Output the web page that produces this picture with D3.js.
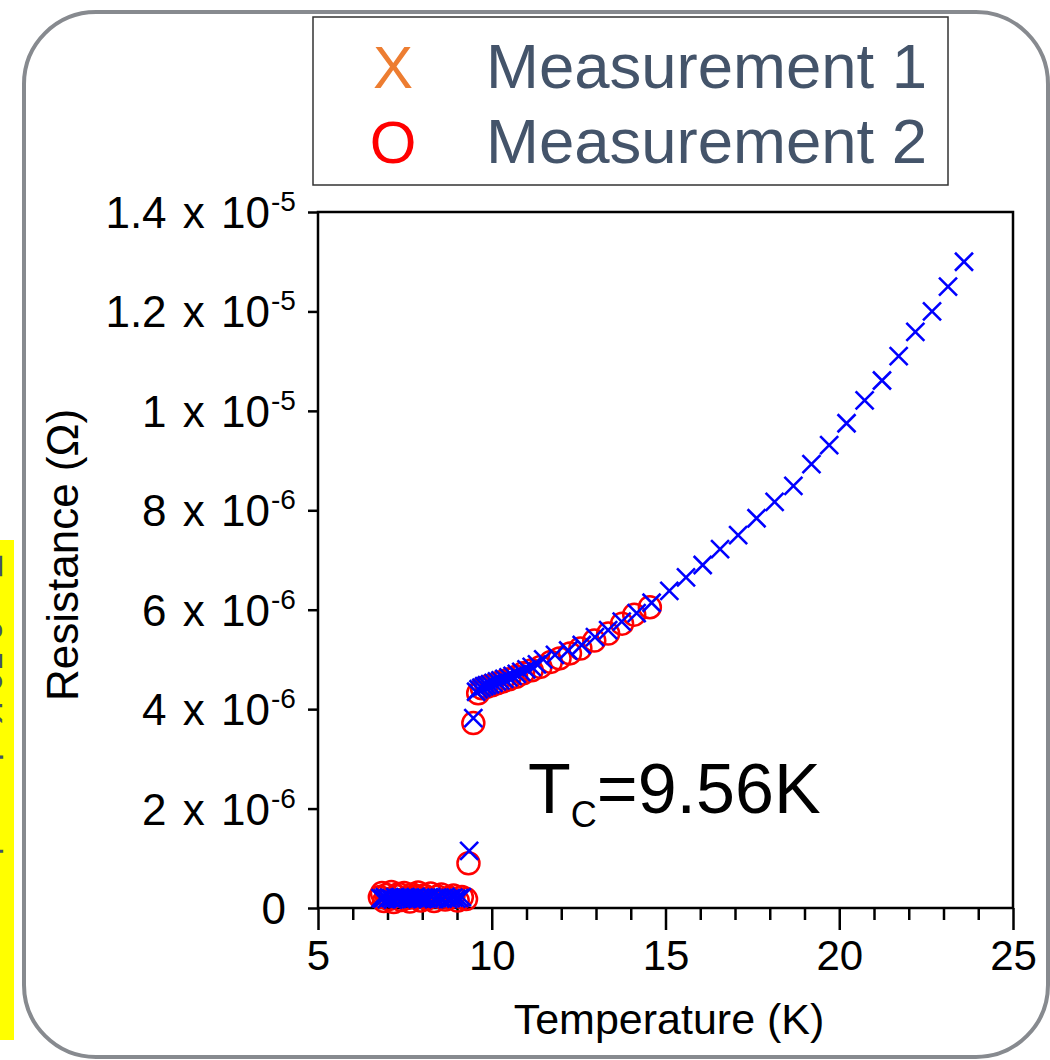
<!DOCTYPE html>
<html>
<head>
<meta charset="utf-8">
<script src="https://cdn.jsdelivr.net/npm/d3@7"></script>
<style>
  html, body { margin: 0; padding: 0; background: #fff; }
  svg { display: block; font-family: "Liberation Sans", Arial, Helvetica, sans-serif; }
</style>
</head>
<body>
<div id="chart"></div>
<script>
// Measurement 1 (blue crosses): temperature in K, resistance in units of 1e-6 Ohm
const m1Temp = [6.80, 6.86, 6.92, 6.98, 7.04, 7.10, 7.16, 7.22, 7.28, 7.34, 7.40, 7.46, 7.52, 7.58, 7.64, 7.70,
  7.76, 7.82, 7.88, 7.94, 8.00, 8.06, 8.12, 8.18, 8.26, 8.34, 8.42, 8.50, 8.58, 8.66, 8.74, 8.82, 8.90, 8.98,
  9.06, 9.14, 9.35, 9.47, 9.55, 9.62, 9.70, 9.78, 9.86, 9.95, 10.05, 10.15, 10.25, 10.36, 10.48, 10.60, 10.72,
  10.85, 11.00, 11.15, 11.30, 11.48, 11.82, 12.20, 12.59, 12.97, 13.35, 13.74, 14.17, 14.60, 15.11, 15.59,
  16.07, 16.57, 17.09, 17.62, 18.14, 18.68, 19.20, 19.71, 20.21, 20.73, 21.23, 21.71, 22.19, 22.67, 23.13, 23.59];
const m1Res = [0.20, 0.19, 0.22, 0.18, 0.21, 0.20, 0.17, 0.22, 0.19, 0.21, 0.18, 0.20, 0.22, 0.19, 0.21, 0.18,
  0.20, 0.22, 0.19, 0.21, 0.18, 0.20, 0.21, 0.19, 0.22, 0.18, 0.20, 0.21, 0.19, 0.22, 0.18, 0.20, 0.21, 0.19,
  0.20, 0.22, 1.15, 3.82, 4.35, 4.40, 4.43, 4.46, 4.48, 4.50, 4.53, 4.56, 4.58, 4.61, 4.64, 4.67, 4.71,
  4.75, 4.80, 4.85, 4.90, 5.00, 5.09, 5.18, 5.29, 5.45, 5.59, 5.76, 5.93, 6.14, 6.38, 6.65,
  6.90, 7.22, 7.50, 7.84, 8.17, 8.49, 8.93, 9.31, 9.75, 10.21, 10.61, 11.10, 11.59, 12.00, 12.50, 13.00];

// Measurement 2 (red circles)
const m2Temp = [6.78, 6.84, 6.90, 6.97, 7.04, 7.11, 7.18, 7.25, 7.32, 7.40, 7.48, 7.56, 7.64, 7.72, 7.80,
  7.88, 7.96, 8.05, 8.14, 8.24, 8.34, 8.44, 8.55, 8.66, 8.78, 8.90, 9.02, 9.14, 9.26, 9.33, 9.47,
  9.61, 9.72, 9.85, 10.00, 10.15, 10.30, 10.50, 10.70, 10.90, 11.15, 11.40, 11.70, 11.95, 12.25, 12.55,
  12.95, 13.35, 13.75, 14.10, 14.55];
const m2Res = [0.22, 0.30, 0.14, 0.26, 0.18, 0.32, 0.12, 0.24, 0.28, 0.16, 0.30, 0.20, 0.13, 0.27, 0.22,
  0.31, 0.15, 0.25, 0.19, 0.29, 0.14, 0.23, 0.27, 0.17, 0.21, 0.25, 0.15, 0.22, 0.18, 0.90, 3.72,
  4.32, 4.42, 4.45, 4.48, 4.52, 4.55, 4.60, 4.65, 4.72, 4.78, 4.85, 4.95, 5.02, 5.12, 5.22,
  5.38, 5.52, 5.72, 5.90, 6.05];

const xMajorTicks = [5, 10, 15, 20, 25];
const xMinorTicks = [6, 7, 8, 9, 11, 12, 13, 14, 16, 17, 18, 19, 21, 22, 23, 24];
const yMajorTicks = [0, 2, 4, 6, 8, 10, 12, 14];
const yTickMantissa = ["0", "2", "4", "6", "8", "1", "1.2", "1.4"];
const yTickExponent = ["", "-6", "-6", "-6", "-6", "-5", "-5", "-5"];
const legendLabels = ["Measurement 1", "Measurement 2"];
const legendSymbols = ["X", "O"];

const W = 1050, H = 1060;
const svg = d3.select('#chart').append('svg')
    .attr('width', W).attr('height', H)
    .attr('viewBox', '0 0 ' + W + ' ' + H);

// outer rounded frame
svg.append('rect')
    .attr('x', 24).attr('y', 12)
    .attr('width', 1024).attr('height', 1045)
    .attr('rx', 72).attr('ry', 72)
    .attr('fill', '#fff')
    .attr('stroke', '#878a8f')
    .attr('stroke-width', 4);

// yellow side strip, its rotated note mostly hidden past the page edge
svg.append('clipPath').attr('id', 'strip')
  .append('rect').attr('x', 0).attr('y', 540).attr('width', 14).attr('height', 500);
const strip = svg.append('g').attr('clip-path', 'url(#strip)');
strip.append('rect').attr('x', 0).attr('y', 540).attr('width', 14).attr('height', 500).attr('fill', '#ffff00');
strip.append('text')
    .attr('transform', 'translate(-24,555) rotate(90)')
    .attr('font-size', 36)
    .attr('fill', '#44546a')
    .text('Tc : 9.56 K  sharp drop');

const x = d3.scaleLinear().domain([5, 25]).range([318, 1013]);
const y = d3.scaleLinear().domain([0, 14]).range([908, 212]);

// plot box
svg.append('rect')
    .attr('x', x(5)).attr('y', y(14))
    .attr('width', x(25) - x(5)).attr('height', y(0) - y(14))
    .attr('fill', 'none').attr('stroke', '#000').attr('stroke-width', 2.5);

// x axis
const xAxis = svg.append('g').attr('transform', 'translate(0,' + y(0) + ')');
xAxis.call(d3.axisBottom(x).tickValues(xMajorTicks).tickSize(22).tickPadding(10).tickFormat(d3.format('d')));
xAxis.append('g').call(d3.axisBottom(x).tickValues(xMinorTicks).tickSize(12).tickFormat(''));
xAxis.selectAll('.domain').remove();
xAxis.selectAll('line').attr('stroke', '#000').attr('stroke-width', 2.5);
xAxis.selectAll('text').attr('font-size', 42).attr('fill', '#000')
    .attr('font-family', '"Liberation Sans", Arial, sans-serif');

// y axis
const yAxis = svg.append('g').attr('transform', 'translate(' + x(5) + ',0)');
yAxis.call(d3.axisLeft(y).tickValues(yMajorTicks).tickSize(10).tickFormat(''));
yAxis.selectAll('.domain').remove();
yAxis.selectAll('line').attr('stroke', '#000').attr('stroke-width', 2.5);

const yLab = svg.append('g').attr('font-size', 44).attr('fill', '#000');
yMajorTicks.forEach((v, i) => {
  if (!yTickExponent[i]) {
    yLab.append('text').attr('x', 286).attr('y', y(v) + 16)
        .attr('text-anchor', 'end').text(yTickMantissa[i]);
    return;
  }
  const t = yLab.append('text')
      .attr('x', 270).attr('y', y(v) + 16)
      .attr('text-anchor', 'end');
  t.append('tspan').text(yTickMantissa[i]);
  t.append('tspan').attr('dx', 4).text(' x');
  t.append('tspan').attr('dx', 4).text(' 10');
  yLab.append('text')
      .attr('x', 271).attr('y', y(v) - 1)
      .attr('font-size', 28)
      .text(yTickExponent[i]);
});

// axis titles
svg.append('text')
    .attr('x', 669).attr('y', 1034)
    .attr('text-anchor', 'middle')
    .attr('font-size', 43).attr('fill', '#000')
    .text('Temperature (K)');
svg.append('text')
    .attr('transform', 'translate(78,555) rotate(-90)')
    .attr('text-anchor', 'middle')
    .attr('font-size', 44).attr('fill', '#000')
    .text('Resistance (Ω)');

// measurement 2: red circles
const m2 = m2Temp.map((t, i) => [t, m2Res[i]]);
svg.append('g').selectAll('circle').data(m2).join('circle')
    .attr('cx', d => x(d[0])).attr('cy', d => y(d[1]))
    .attr('r', 11)
    .attr('fill', 'none').attr('stroke', '#ff0000').attr('stroke-width', 2.5);

// measurement 1: blue crosses
const m1 = m1Temp.map((t, i) => [t, m1Res[i]]);
const cs = 9;
svg.append('g').selectAll('path').data(m1).join('path')
    .attr('d', d => {
      const px = x(d[0]), py = y(d[1]);
      return 'M' + (px - cs) + ',' + (py - cs) + 'L' + (px + cs) + ',' + (py + cs) +
             'M' + (px - cs) + ',' + (py + cs) + 'L' + (px + cs) + ',' + (py - cs);
    })
    .attr('fill', 'none').attr('stroke', '#0000ff').attr('stroke-width', 2.6);

// Tc annotation
const tc = svg.append('text')
    .attr('x', 528).attr('y', 813)
    .attr('font-size', 70).attr('fill', '#000');
tc.append('tspan').text('T');
tc.append('tspan').attr('font-size', 36).attr('dy', 14).text('C');
tc.append('tspan').attr('dy', -14).text('=9.56K');

// legend
svg.append('rect')
    .attr('x', 313).attr('y', 17)
    .attr('width', 635).attr('height', 168)
    .attr('fill', '#fff').attr('stroke', '#333').attr('stroke-width', 1.5);
const legColors = ['#ed7d31', '#ff0000'];
legendLabels.forEach((lab, i) => {
  const by = 88 + i * 75;
  svg.append('text')
      .attr('x', 393).attr('y', by)
      .attr('text-anchor', 'middle')
      .attr('font-size', 60).attr('fill', legColors[i])
      .text(legendSymbols[i]);
  svg.append('text')
      .attr('x', 486).attr('y', by)
      .attr('font-size', 63.5).attr('fill', '#44546a')
      .text(lab);
});
</script>
</body>
</html>
